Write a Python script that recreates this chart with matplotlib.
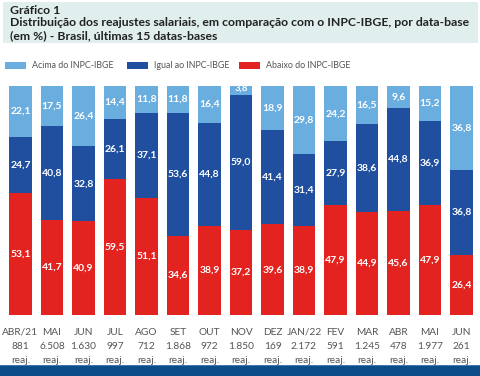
import matplotlib
matplotlib.use("Agg")
import matplotlib.pyplot as plt
from matplotlib.patches import Rectangle
import numpy as np

months = ["ABR/21", "MAI", "JUN", "JUL", "AGO", "SET", "OUT", "NOV", "DEZ",
          "JAN/22", "FEV", "MAR", "ABR", "MAI", "JUN"]
counts = ["881", "6.508", "1.630", "997", "712", "1.868", "972", "1.850", "169",
          "2.172", "591", "1.245", "478", "1.977", "261"]
abaixo = [53.1, 41.7, 40.9, 59.5, 51.1, 34.6, 38.9, 37.2, 39.6, 38.9, 47.9, 44.9, 45.6, 47.9, 26.4]
igual = [24.7, 40.8, 32.8, 26.1, 37.1, 53.6, 44.8, 59.0, 41.4, 31.4, 27.9, 38.6, 44.8, 36.9, 36.8]
acima = [22.1, 17.5, 26.4, 14.4, 11.8, 11.8, 16.4, 3.8, 18.9, 29.8, 24.2, 16.5, 9.6, 15.2, 36.8]
series_names = ["Acima do INPC-IBGE", "Igual ao INPC-IBGE", "Abaixo do INPC-IBGE"]

c_light = "#6aaee0"
c_dark = "#1f4f9e"
c_red = "#e2231f"

plt.rcParams['font.family'] = ['Lato', 'DejaVu Sans']

W, H = 480, 376
fig = plt.figure(figsize=(W / 100, H / 100), dpi=100)

# title box
fig.patches.append(Rectangle((3 / W, 1 - 43 / H), 475 / W, 41 / H, transform=fig.transFigure,
                             facecolor="#e0eeee", edgecolor="none", zorder=0))
fig.text(10 / W, 1 - 10 / H, "Gráfico 1", fontsize=8.8, fontweight="bold", color="#222222", va="center")
fig.text(10 / W, 1 - 23 / H, "Distribuição dos reajustes salariais, em comparação com o INPC-IBGE, por data-base",
         fontsize=8.8, fontweight="bold", color="#222222", va="center")
fig.text(10 / W, 1 - 36 / H, "(em %) - Brasil, últimas 15 datas-bases",
         fontsize=8.8, fontweight="bold", color="#222222", va="center")

# legend
leg_items = [(5, c_light, series_names[0]), (127, c_dark, series_names[1]), (239, c_red, series_names[2])]
for x0, col, lab in leg_items:
    fig.patches.append(Rectangle((x0 / W, 1 - 68.5 / H), 21 / W, 6.5 / H, transform=fig.transFigure,
                                 facecolor=col, edgecolor="none"))
    fig.text((x0 + 27) / W, 1 - 65.5 / H, lab, fontsize=6.4, color="#555555", va="center")

# bottom band
fig.patches.append(Rectangle((0, 0), 1, 10 / H, transform=fig.transFigure,
                             facecolor="#0b4d88", edgecolor="none"))
fig.patches.append(Rectangle((0, 10 / H), 1, 1.5 / H, transform=fig.transFigure,
                             facecolor="#3f79b0", edgecolor="none"))

# axes
w = 0.73
ax = fig.add_axes([9 / W, 1 - 315 / H, 464 / W, 229 / H])
x = np.arange(len(months))
ax.bar(x, abaixo, width=w, color=c_red)
ax.bar(x, igual, width=w, bottom=abaixo, color=c_dark)
bottom2 = np.array(abaixo) + np.array(igual)
ax.bar(x, acima, width=w, bottom=bottom2, color=c_light)
ax.set_xlim(-w / 2, len(months) - 1 + w / 2)
ax.set_ylim(0, 100)
ax.axis("off")

def fmt(v):
    return f"{v:.1f}".replace(".", ",")

for i in range(len(months)):
    ax.text(x[i], abaixo[i] / 2, fmt(abaixo[i]), ha="center", va="center", color="white",
            fontsize=7.5, fontweight="bold")
    ax.text(x[i], abaixo[i] + igual[i] / 2, fmt(igual[i]), ha="center", va="center", color="white",
            fontsize=7.5, fontweight="bold")
    if acima[i] >= 6:
        ax.text(x[i], bottom2[i] + acima[i] / 2, fmt(acima[i]), ha="center", va="center",
                color="white", fontsize=7.5, fontweight="bold")
    else:
        ax.text(x[i], 99.0, fmt(acima[i]), ha="center", va="center", color="white",
                fontsize=7, fontweight="bold", clip_on=True)
    ax.text(x[i], -7.5, months[i], ha="center", va="center", color="#555555", fontsize=7.3)
    ax.text(x[i], -13.6, counts[i], ha="center", va="center", color="#555555", fontsize=7.3)
    ax.text(x[i], -19.8, "reaj.", ha="center", va="center", color="#555555", fontsize=7.3)

fig.savefig("out.png", dpi=100, facecolor="white")
